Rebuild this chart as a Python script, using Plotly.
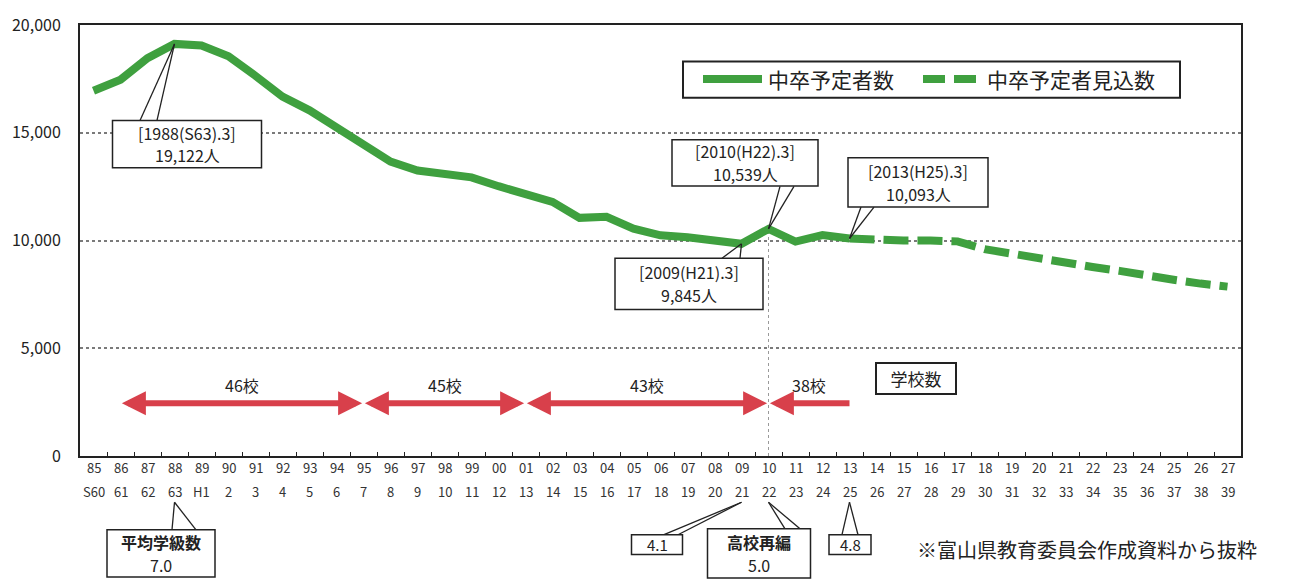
import plotly.graph_objects as go

# ---- data -------------------------------------------------------------
years = list(range(1985, 2028))
year_labels = ["85", "86", "87", "88", "89", "90", "91", "92", "93", "94",
               "95", "96", "97", "98", "99", "00", "01", "02", "03", "04",
               "05", "06", "07", "08", "09", "10", "11", "12", "13", "14",
               "15", "16", "17", "18", "19", "20", "21", "22", "23", "24",
               "25", "26", "27"]
era_labels = ["S60", "61", "62", "63", "H1", "2", "3", "4", "5", "6",
              "7", "8", "9", "10", "11", "12", "13", "14", "15", "16",
              "17", "18", "19", "20", "21", "22", "23", "24", "25", "26",
              "27", "28", "29", "30", "31", "32", "33", "34", "35", "36",
              "37", "38", "39"]

actual_years = list(range(1985, 2014))
actual_grads = [16950, 17460, 18460, 19122, 19050, 18550, 17640, 16680, 16040, 15260,
                14440, 13660, 13250, 13120, 12930, 12520, 12110, 11790, 11050, 11100,
                10550, 10240, 10150, 10000, 9845, 10539, 9950, 10250, 10093]

forecast_years = list(range(2014, 2028))
forecast_grads = [10010, 10000, 10000, 9960, 9600, 9370, 9140, 8960, 8770, 8590,
                  8360, 8180, 8000, 7860]

school_labels = ["46校", "45校", "43校", "38校"]
period_start = [1986, 1995, 2001, 2010]
period_end = [1995, 2001, 2010, 2013]
arrow_level = 2450

callout_years = [1988, 2010, 2013, 2009]
callout_heads = ["[1988(S63).3]", "[2010(H22).3]", "[2013(H25).3]", "[2009(H21).3]"]

class_years = [1988, 2009, 2010, 2013]
class_heads = ["平均学級数", "", "高校再編", ""]
class_avgs = ["7.0", "4.1", "5.0", "4.8"]

y_ticks = [0, 5000, 10000, 15000, 20000]
y_tick_text = ["0", "5,000", "10,000", "15,000", "20,000"]

# ---- styling ----------------------------------------------------------
FONT = "Noto Sans CJK JP"
GREEN = "#3fa03f"
RED = "#d8404b"
INK = "#222222"

W, H = 1297, 579
L, R, T, B = 80, 1241, 18, 456
X0, X1 = 1984.5, 2027.5
Y0, Y1 = 0, 20000


def px(xpix):
    return (xpix - L) / (R - L)


def py(ypix):
    return (B - ypix) / (B - T)


def dx(year):
    return (year - X0) / (X1 - X0)


def dy(val):
    return (val - Y0) / (Y1 - Y0)


value_of = dict(zip(actual_years, actual_grads))

fig = go.Figure()

fig.add_trace(go.Scatter(
    x=actual_years, y=actual_grads, mode="lines",
    line=dict(color=GREEN, width=8), showlegend=False, hoverinfo="skip"))
fig.add_trace(go.Scatter(
    x=[actual_years[-1]] + forecast_years,
    y=[actual_grads[-1]] + forecast_grads, mode="lines",
    line=dict(color=GREEN, width=8, dash="25px,9px"),
    showlegend=False, hoverinfo="skip"))

shapes = []
annotations = []

# drop line at 2010
shapes.append(dict(type="line", xref="x", yref="y", x0=2010, x1=2010,
                   y0=0, y1=value_of[2010], layer="below",
                   line=dict(color="#9a9a9a", width=1, dash="dot")))

# school-count arrows: shafts as line traces, heads as arrow annotations
gap = 0.05
head_len = 0.5


def arrow_head(tip, tail):
    annotations.append(dict(x=tip, y=arrow_level, ax=tail, ay=arrow_level,
                            xref="x", yref="y", axref="x", ayref="y", text="",
                            showarrow=True, arrowhead=2, arrowsize=0.8,
                            arrowwidth=6, arrowcolor=RED, standoff=0, startstandoff=0))


for k, (lab, s, e) in enumerate(zip(school_labels, period_start, period_end)):
    mid = (s + e) / 2
    last = k == len(school_labels) - 1
    x_left = s + gap
    x_right = e if last else e - gap
    fig.add_trace(go.Scatter(
        x=[x_left + 0.35, x_right - (0 if last else 0.35)], y=[arrow_level, arrow_level],
        mode="lines", line=dict(color=RED, width=6), showlegend=False, hoverinfo="skip"))
    arrow_head(x_left, x_left + head_len)
    if not last:
        arrow_head(x_right, x_right - head_len)
    annotations.append(dict(x=mid, y=arrow_level, xref="x", yref="y", yshift=18,
                            yanchor="middle", text=lab, showarrow=False,
                            font=dict(family=FONT, size=16, color=INK)))

annotations.append(dict(x=px(916), y=py(377), xref="paper", yref="paper",
                        xanchor="center", yanchor="middle",
                        text="学校数", showarrow=False, width=78, height=29,
                        bordercolor=INK, borderwidth=2, borderpad=0, bgcolor="white",
                        font=dict(family=FONT, size=17, color=INK)))

# two-row category labels
for yr, a, b in zip(years, year_labels, era_labels):
    annotations.append(dict(x=yr, y=py(468), xref="x", yref="paper", text=a,
                            xanchor="center", yanchor="middle", showarrow=False,
                            font=dict(family=FONT, size=13, color="#333")))
    annotations.append(dict(x=yr, y=py(492), xref="x", yref="paper", text=b,
                            xanchor="center", yanchor="middle", showarrow=False,
                            font=dict(family=FONT, size=13, color="#333")))


def text_at(cx, cy, text, size, bold=False):
    annotations.append(dict(x=px(cx), y=py(cy), xref="paper", yref="paper",
                            text=f"<b>{text}</b>" if bold else text, showarrow=False,
                            xanchor="center", yanchor="middle",
                            font=dict(family=FONT, size=size, color=INK)))


def callout(lines, cx, cy, w, h, tip, base1, base2, size, bold=False):
    # pointer lines first, then the framed box on top of them
    for bx, by in (base1, base2):
        shapes.append(dict(type="line", xref="paper", yref="paper",
                           x0=px(bx), y0=py(by), x1=tip[0], y1=tip[1],
                           line=dict(color=INK, width=1.3)))
    shapes.append(dict(type="rect", xref="paper", yref="paper",
                       x0=px(cx - w / 2), x1=px(cx + w / 2),
                       y0=py(cy + h / 2), y1=py(cy - h / 2),
                       line=dict(color=INK, width=1.5), fillcolor="white"))
    lines = [ln for ln in lines if ln]
    step = 23
    start = cy - step * (len(lines) - 1) / 2
    for n, ln in enumerate(lines):
        text_at(cx, start + n * step, ln, size, bold and n == 0 and len(lines) > 1)


# value call-outs on the line
box_geo = [
    ((187, 139, 149, 48), (140, 115), (157, 115)),
    ((745, 158, 146, 47), (780, 182), (794, 182)),
    ((918, 178, 140, 50), (861, 203), (874, 203)),
    ((689, 281, 148, 52), (722, 255), (740, 255)),
]
for yr, head, (geo, b1, b2) in zip(callout_years, callout_heads, box_geo):
    v = value_of[yr]
    callout([head, f"{v:,}人"], geo[0], geo[1], geo[2], geo[3],
            (dx(yr), dy(v)), b1, b2, 16)

# average class count call-outs under the axis
class_geo = [
    ((161, 555, 108, 48, 16), (172, 531), (196, 531)),
    ((657, 546, 51, 20, 15), (664, 536), (678, 536)),
    ((759, 555, 103, 50, 16), (785, 530), (800, 530)),
    ((850, 546, 42, 20, 15), (842, 536), (858, 536)),
]
for yr, head, avg, (geo, b1, b2) in zip(class_years, class_heads, class_avgs, class_geo):
    callout([head, avg], geo[0], geo[1], geo[2], geo[3],
            (dx(yr), py(503)), b1, b2, geo[4], bold=True)

# legend
shapes.append(dict(type="rect", xref="paper", yref="paper",
                   x0=px(683), x1=px(1180), y0=py(92), y1=py(55),
                   line=dict(color=INK, width=2), fillcolor="white"))
shapes.append(dict(type="line", xref="paper", yref="paper",
                   x0=px(703), x1=px(762), y0=py(73), y1=py(73),
                   line=dict(color=GREEN, width=8)))
shapes.append(dict(type="line", xref="paper", yref="paper",
                   x0=px(923), x1=px(980), y0=py(73), y1=py(73),
                   line=dict(color=GREEN, width=8, dash="22px,9px")))
annotations.append(dict(x=px(766), y=py(73), xref="paper", yref="paper",
                        xanchor="left", yanchor="middle", text="中卒予定者数", showarrow=False,
                        font=dict(family=FONT, size=21, color=INK)))
annotations.append(dict(x=px(985), y=py(73), xref="paper", yref="paper",
                        xanchor="left", yanchor="middle", text="中卒予定者見込数", showarrow=False,
                        font=dict(family=FONT, size=21, color=INK)))

# source note
annotations.append(dict(x=px(915), y=py(551), xref="paper", yref="paper",
                        xanchor="left", yanchor="middle", text="※富山県教育委員会作成資料から抜粋",
                        showarrow=False, font=dict(family=FONT, size=20, color=INK)))

fig.update_layout(
    width=W, height=H,
    margin=dict(l=L, r=W - R, t=T, b=H - B, pad=0),
    paper_bgcolor="white", plot_bgcolor="white",
    shapes=shapes, annotations=annotations,
    xaxis=dict(range=[X0, X1], showgrid=False, zeroline=False,
               tickvals=[y + 0.5 for y in years[:-1]], showticklabels=False,
               ticks="inside", ticklen=4, tickcolor=INK, tickwidth=1,
               showline=True, mirror=True, linecolor=INK, linewidth=2),
    yaxis=dict(range=[Y0, Y1], tickvals=y_ticks, ticktext=y_tick_text,
               showgrid=True, gridcolor="#7a7a7a", griddash="dot", gridwidth=1.5,
               zeroline=False, ticks="", ticklabelstandoff=14,
               tickfont=dict(family=FONT, size=16, color=INK),
               showline=True, mirror=True, linecolor=INK, linewidth=2),
)

fig.write_html("out.html")
